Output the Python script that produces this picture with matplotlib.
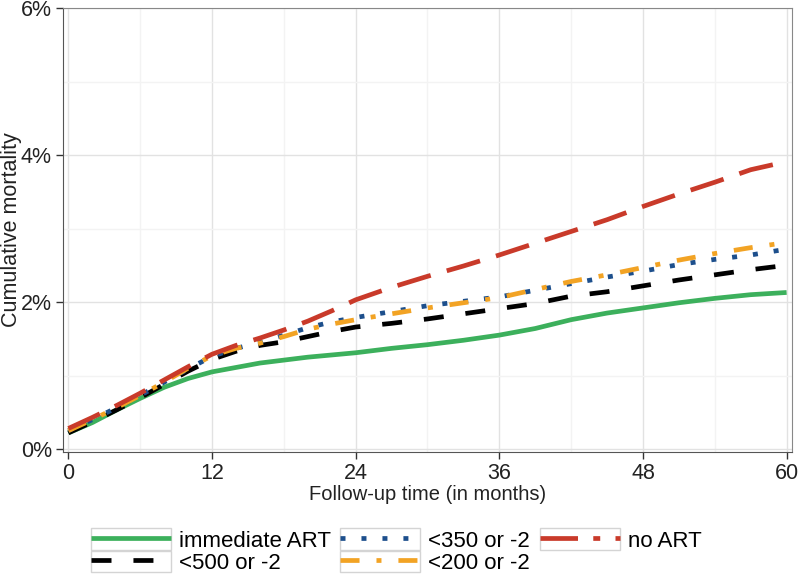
import matplotlib
matplotlib.use("Agg")
import matplotlib.pyplot as plt
from matplotlib.lines import Line2D
from matplotlib.patches import Rectangle
from matplotlib.legend_handler import HandlerLine2D

plt.rcParams['font.family'] = ['Liberation Sans', 'DejaVu Sans']
plt.rcParams['lines.scale_dashes'] = False

# follow-up months and cumulative mortality (%)
months = [0, 2, 4, 6, 8, 10, 12, 14, 16, 18, 20, 22, 24,
          27, 30, 33, 36, 39, 42, 45, 48, 51, 54, 57, 60]
immediate = [0.22, 0.36, 0.53, 0.69, 0.84, 0.96, 1.05, 1.11, 1.17, 1.21, 1.25, 1.28, 1.31,
             1.37, 1.42, 1.48, 1.55, 1.64, 1.76, 1.85, 1.92, 1.99, 2.05, 2.10, 2.13]
lt500 = [0.22, 0.37, 0.53, 0.70, 0.88, 1.06, 1.22, 1.33, 1.41, 1.46, 1.53, 1.60, 1.66,
         1.71, 1.77, 1.84, 1.91, 1.98, 2.08, 2.14, 2.22, 2.30, 2.37, 2.44, 2.50]
lt350 = [0.25, 0.40, 0.56, 0.73, 0.91, 1.09, 1.26, 1.37, 1.45, 1.55, 1.65, 1.73, 1.79,
         1.87, 1.95, 2.01, 2.07, 2.16, 2.25, 2.34, 2.42, 2.51, 2.58, 2.64, 2.72]
lt200 = [0.25, 0.40, 0.56, 0.73, 0.91, 1.10, 1.27, 1.37, 1.44, 1.53, 1.63, 1.70, 1.76,
         1.84, 1.92, 1.99, 2.06, 2.17, 2.28, 2.37, 2.47, 2.57, 2.66, 2.74, 2.81]
no_art = [0.28, 0.43, 0.59, 0.76, 0.94, 1.12, 1.29, 1.41, 1.51, 1.62, 1.74, 1.88, 2.03,
          2.20, 2.35, 2.49, 2.64, 2.80, 2.96, 3.12, 3.30, 3.47, 3.63, 3.80, 3.91]

labels = ['immediate ART', '<500 or -2', '<350 or -2', '<200 or -2', 'no ART']
colors = ['#3cb05c', '#000000', '#1d4f8c', '#f2a324', '#c93a2a']
dashes = [None, (14.4, 15.8), (3.6, 11.5), (13.7, 12.2, 3.6, 12.2), (25, 12)]
legend_dashes = [None, (14.4, 15.8), (3.6, 11.5), (13.7, 12.2, 3.6, 12.2), (27, 11, 5, 11)]
series = [immediate, lt500, lt350, lt200, no_art]


class BoxedHandler(HandlerLine2D):
    # draws the key inside a light grey box, like Stata does
    def create_artists(self, legend, orig_handle, xdescent, ydescent,
                       width, height, fontsize, trans):
        arts = super().create_artists(legend, orig_handle, xdescent, ydescent,
                                      width, height, fontsize, trans)
        box = Rectangle((-xdescent, -ydescent - 0.5), width, height + 1.0,
                        facecolor='none', edgecolor='#d4d4d4', lw=1.0,
                        transform=trans)
        return [box] + arts


fig = plt.figure(figsize=(8, 5.83), dpi=100)
ax = fig.add_axes([63 / 800, 1 - 452 / 583, 729 / 800, 444 / 583])

for y, lab, col, d in zip(series, labels, colors, dashes):
    ln, = ax.plot(months, y, color=col, lw=3.4, solid_capstyle='butt',
                  dash_capstyle='butt', label=lab)
    if d is not None:
        ln.set_dashes(d)

ax.set_xlim(-0.45, 60.45)
ax.set_ylim(-0.04, 6)
ax.set_xticks([0, 12, 24, 36, 48, 60])
ax.set_xticks([6, 18, 30, 42, 54], minor=True)
ax.set_yticks([0, 2, 4, 6])
ax.set_yticks([1, 3, 5], minor=True)
ax.set_yticklabels(['0%', '2%', '4%', '6%'])
ax.grid(True, which='major', color='#e2e2e2', lw=1.0)
ax.grid(True, which='minor', color='#f3f3f3', lw=1.0)
ax.set_axisbelow(True)
ax.tick_params(which='major', direction='out', length=5, width=1, colors='#333333',
               labelsize=15.5, labelcolor='#222222', pad=3)
ax.tick_params(which='minor', length=0)
for s in ['left', 'bottom']:
    ax.spines[s].set_color('#555555')
for s in ['top', 'right']:
    ax.spines[s].set_color('#888888')
ax.set_xlabel('Follow-up time (in months)', fontsize=14.5, color='#222222', labelpad=1)
ax.set_ylabel('Cumulative mortality', fontsize=15.5, color='#222222')
ax.yaxis.set_label_coords(-0.056, 0.5)

handles = []
for lab, col, d in zip(labels, colors, legend_dashes):
    h = Line2D([], [], color=col, lw=3.4, solid_capstyle='butt', dash_capstyle='butt')
    if d is not None:
        h.set_dashes(d)
    handles.append(h)

fig.legend(handles, labels, loc='upper left', bbox_to_anchor=(80 / 800, 1 - 518 / 583),
           ncol=3, frameon=False, fontsize=16, borderpad=0, handlelength=3.6,
           handleheight=1.0, handletextpad=0.36, columnspacing=0.42, labelspacing=0.0,
           handler_map={Line2D: BoxedHandler()})

fig.savefig('out.png', dpi=100)
